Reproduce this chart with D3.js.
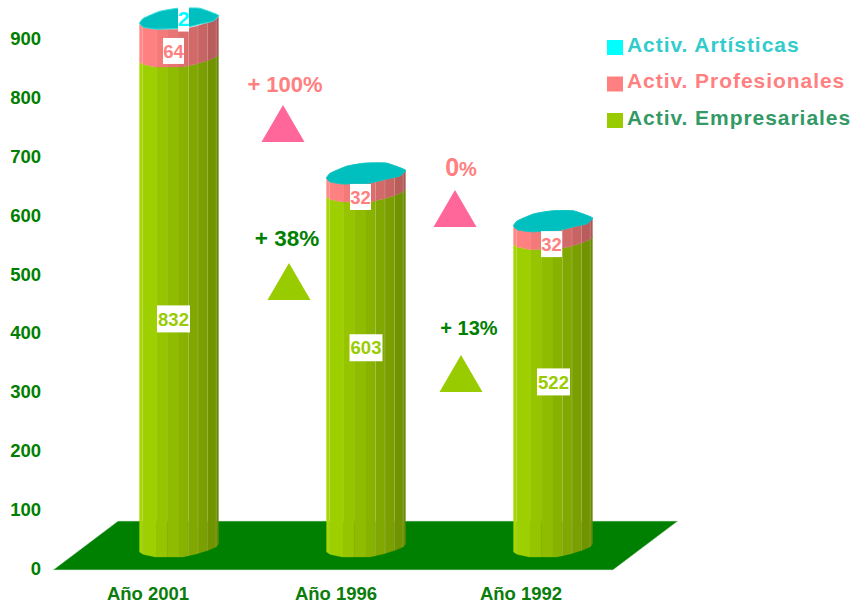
<!DOCTYPE html>
<html><head><meta charset="utf-8">
<script src="https://cdn.jsdelivr.net/npm/d3@7"></script>
<style>html,body{margin:0;background:#fff}svg{display:block}text{font-family:"Liberation Sans",Arial,sans-serif;font-weight:bold}</style>
</head><body><svg id="c" width="854" height="605"></svg>
<script>
const categories=["Año 2001","Año 1996","Año 1992"];
const empresariales=[832,603,522];
const profesionales=[64,32,32];
const artisticas=[2,0,0];
const empresarialesLabelAt=[423,374,316];
const profesionalesLabelAt=[878,630,550];
const artisticasLabelAt=[933,null,null];
const yTicks=[0,100,200,300,400,500,600,700,800,900];
const legendNames=["Activ. Artísticas","Activ. Profesionales","Activ. Empresariales"];
const annotationTexts=["+ 100%","0%","+ 38%","+ 13%"];

const svg=d3.select("#c");
const y=d3.scaleLinear().domain([0,900]).range([568,38]);
const x=d3.scalePoint().domain(categories).range([179,553]);
const barW=79, lift=16;
const fam='"Liberation Sans",Arial,sans-serif';

// floor
svg.append("path").attr("d","M53,570L613,570L678,521L118,521Z").attr("fill","#008000").attr("stroke","#d8ead8").attr("stroke-width",.6);

// y axis text
const ax=svg.append("g").attr("transform","translate(41,0)").call(d3.axisLeft(y).tickValues(yTicks).tickFormat(d3.format("d")).tickSize(0).tickPadding(0));
ax.select(".domain").remove();
ax.selectAll("text").attr("fill","#008000").style("font-size","18.5px").style("font-family",fam).attr("dy",".35em");

// x axis text
const xOff=[-31,-30,-32];
const xa=svg.append("g").attr("transform","translate(0,587)").call(d3.axisBottom(x).tickSize(0).tickPadding(0));
xa.select(".domain").remove();
xa.selectAll("text").attr("fill","#0b7d0b").attr("dy","0.71em").style("font-size","18.5px").style("font-family",fam);
xa.selectAll(".tick").attr("transform",(d,i)=>`translate(${x(d)+xOff[i]},0)`);

// cylinder geometry
const edges=[0,.04,.22,.35,.5,.62,.74,.86,.97,1];
const greens=["#a8d600","#9ecf00","#96c500","#8fbc00","#88b200","#81a800","#7a9f00","#719300","#6a8a00"];
const reds=["#ff8888","#ff8080","#f47a7a","#e87474","#dc6e6e","#d26a6a","#c86464","#b85c5c","#ac5656"];
const knotT=[0,.05,.2,.55,.72,.88,.97,1], knotD=[0,2.5,5,5,2,-2,-5,-8];
const curve=d3.scaleLinear().domain(knotT).range(knotD);
const capOutline=[[0,0],[.05,-5],[.26,-12],[.49,-15],[.76,-15],[1,-8],[.93,-2],[.76,1],[.55,5],[.22,6],[.05,4]];
const sample=(a,b)=>[a,...knotT.filter(t=>t>a&&t<b),b];
const labelDx=[[-5.5,0,.5],[-5.5,-5.5,-1.5],[4.5,0,0]];

categories.forEach((cat,i)=>{
  const left=x(cat)-barW/2;
  const g=svg.append("g");
  const px=d3.scaleLinear().domain([0,1]).range([left,left+barW]);
  const segs=[
    {from:0,to:empresariales[i],col:greens},
    {from:empresariales[i],to:empresariales[i]+profesionales[i],col:reds}];
  segs.forEach(s=>{
    const area=d3.area().x(t=>px(t)).y0(t=>y(s.from)-lift+curve(t)).y1(t=>y(s.to)-lift+curve(t));
    g.selectAll(null).data(d3.pairs(edges)).join("path")
      .attr("d",d=>area(sample(d[0],d[1])))
      .attr("fill",(d,j)=>s.col[j]).attr("stroke",(d,j)=>s.col[j]).attr("stroke-width",.3);
    const bot=y(s.from)-lift, top=y(s.to)-lift;
    g.selectAll(null).data([.04,.62,.74,.86,.97]).join("line")
      .attr("x1",t=>px(t)).attr("x2",t=>px(t))
      .attr("y1",t=>bot+curve(t)).attr("y2",t=>top+curve(t))
      .attr("stroke","#fff").attr("stroke-opacity",.18).attr("stroke-width",1);
  });
  const total=empresariales[i]+profesionales[i]+artisticas[i];
  const capY=y(total)-lift;
  const line=d3.line().x(d=>px(d[0])).y(d=>capY+d[1]).curve(d3.curveCardinalClosed.tension(.6));
  g.append("path").attr("d",line(capOutline)).attr("fill","#00bfbf").attr("stroke",artisticas[i]?"#33dddd":"#10c4c4").attr("stroke-width",1);

  const label=(val,at,col,dx,fs)=>{
    if(at==null)return;
    const cy=y(at), n=String(val).length, w=[11,21,33][n-1], h=n===3?27:26;
    g.append("rect").attr("x",x(cat)+dx-w/2).attr("y",cy-h/2).attr("width",w).attr("height",h).attr("fill","#fff");
    g.append("text").attr("x",x(cat)+dx).attr("y",cy).attr("dy",".36em").attr("text-anchor","middle").attr("fill",col).style("font-size",fs+"px").text(val);
  };
  label(empresariales[i],empresarialesLabelAt[i],"#99cc00",labelDx[0][i],18.5);
  label(profesionales[i],profesionalesLabelAt[i],"#ff8080",labelDx[1][i],18.5);
  label(artisticas[i],artisticasLabelAt[i],"#00ffff",labelDx[2][i],21);
});

// legend
const legendColors=["#00ffff","#ff8080","#99cc00"], legendText=["#33cccc","#ff8080","#339966"];
const ly=d3.scalePoint().domain(legendNames).range([47,120]);
legendNames.forEach((n,i)=>{
  svg.append("rect").attr("x",607).attr("y",ly(n)-7).attr("width",16).attr("height",15).attr("fill",legendColors[i]);
  svg.append("text").attr("x",627).attr("y",ly(n)-2).attr("dy",".33em").attr("fill",legendText[i]).style("font-size","21px").attr("letter-spacing",".95px").text(n);
});

// annotations
const ann=[
 {tx:285,ty:84,col:"#ff8080",fs:22,tri:[283,142],tc:"#ff6699"},
 {tx:461,ty:169,col:"#ff8080",fs:20,tri:[455,227],tc:"#ff6699"},
 {tx:287,ty:238,col:"#008000",fs:22.5,tri:[289,300],tc:"#99cc00"},
 {tx:469,ty:328,col:"#008000",fs:20,tri:[461,392],tc:"#99cc00"}];
ann.forEach((d,i)=>{
  const t=svg.append("text").attr("x",d.tx).attr("y",d.ty).attr("dy",".35em").attr("text-anchor","middle").attr("fill",d.col).style("font-size",d.fs+"px");
  const s=annotationTexts[i];
  if(s==="0%"){t.append("tspan").style("font-size","25px").text("0");t.append("tspan").text("%");}
  else t.text(s);
  svg.append("path").attr("d",d3.line()([[d.tri[0]-21.5,d.tri[1]],[d.tri[0]+21.5,d.tri[1]],[d.tri[0],d.tri[1]-37]])+"Z").attr("fill",d.tc);
});
</script></body></html>
